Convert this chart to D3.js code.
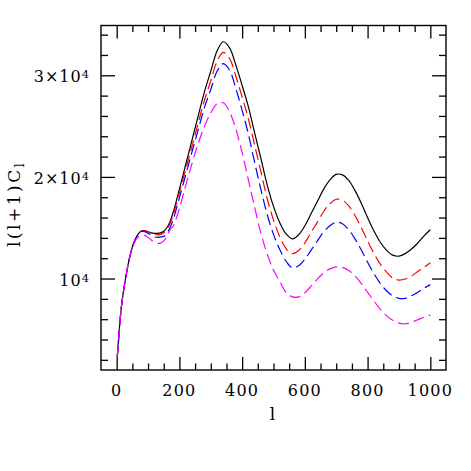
<!DOCTYPE html>
<html>
<head>
<meta charset="utf-8">
<script src="https://cdn.jsdelivr.net/npm/d3@7"></script>
<style>
    body { margin: 0; background: #fff; }
    svg text { font-family: "DejaVu Serif", serif; fill: #000; }
</style>
</head>
<body>
<div id="spectrum-area"></div>
<script>

// multipoles shared by every curve
const ell = [2, 5, 10, 15, 20,
    30, 40, 50, 60, 70, 80, 90, 100, 110, 120, 130, 140, 150, 160, 170, 180,
    200, 220, 240, 260, 280, 300, 320, 340, 360, 380, 400, 420, 440, 460, 480, 500,
    520, 540, 560, 580, 600, 620, 640, 660, 680, 700, 720, 740, 760, 780, 800,
    820, 840, 860, 880, 900, 920, 940, 960, 980, 1000];

// l(l+1)C_l
const clBlack = [2300, 3600, 5600, 7200, 8400,
    10300, 11900, 13100, 13900, 14450, 14700, 14700, 14600, 14500, 14450, 14450, 14500, 14650, 15000, 15600, 16500,
    18800, 21200, 23600, 26000, 28400, 30400, 32400, 33300, 32700, 31000, 29000, 26900, 24300, 21800, 19200, 17100,
    15500, 14400, 13900, 14300, 15200, 16400, 17600, 18800, 19700, 20250, 20200, 19650, 18650, 17400, 16000,
    14700, 13600, 12800, 12300, 12200, 12450, 12900, 13500, 14200, 14800];

const clRed = [2300, 3600, 5600, 7200, 8400,
    10300, 11900, 13100, 13900, 14450, 14700, 14700, 14600, 14450, 14350, 14300, 14350, 14500, 14850, 15400, 16250,
    18450, 20750, 23000, 25300, 27550, 29450, 31350, 32250, 31650, 29900, 27850, 25700, 23100, 20500, 17850, 15750,
    14100, 12950, 12450, 12750, 13500, 14550, 15550, 16600, 17350, 17800, 17700, 17150, 16200, 15000, 13700,
    12500, 11450, 10650, 10050, 9850, 9950, 10250, 10700, 11100, 11550];

const clBlue = [2300, 3600, 5600, 7200, 8400,
    10300, 11900, 13100, 13900, 14400, 14650, 14600, 14450, 14250, 14100, 14050, 14100, 14150, 14450, 15000, 15800,
    17950, 20200, 22450, 24650, 26850, 28600, 30400, 31150, 30500, 28700, 26550, 24200, 21400, 18750, 16300, 14350,
    12850, 11700, 11050, 11250, 11900, 12800, 13700, 14600, 15200, 15550, 15400, 14800, 13900, 12800, 11600,
    10500, 9550, 8800, 8300, 8050, 8050, 8300, 8650, 9050, 9400];

const clMagenta = [2400, 3600, 5600, 7200, 8400,
    10300, 11900, 13000, 13750, 14150, 14300, 14250, 14050, 13800, 13600, 13470, 13480, 13700, 14150, 14780, 15150,
    16900, 19150, 21300, 23300, 25000, 26300, 27200, 27300, 26400, 24700, 22400, 19700, 17000, 14450, 12400, 10850,
    9700, 8650, 8200, 8200, 8600, 9250, 9950, 10550, 10950, 11150, 11100, 10800, 10250, 9500, 8650,
    7800, 7000, 6350, 5900, 5620, 5550, 5700, 5950, 6200, 6400];

const seriesColors = ["#000000", "#ff0000", "#0000ff", "#ff00ff"];
const seriesDashes = [null, "11,5", "11,5", "11,5"];

// axis ticks
const xMajorTicks = [0, 200, 400, 600, 800, 1000];
const xMinorTicks = [50, 100, 150, 250, 300, 350, 450, 500, 550, 650, 700, 750, 850, 900, 950];
const yMajorTicks = [10000, 20000, 30000];
const yMinorTicks = [2000, 4000, 6000, 8000, 12000, 14000, 16000, 18000, 22000, 24000, 26000, 28000, 32000, 34000];
const yTickMantissa = ["", "2\u00d7", "3\u00d7"];


SpectrumPlot = function (_parentElement, _data) {
    this.parentElement = _parentElement;
    this.data = _data;
    this.initVis();
}

SpectrumPlot.prototype.initVis = function () {
    const vis = this;

    vis.margin = {top: 25.5, right: 25, bottom: 101, left: 101};
    vis.width = 471 - vis.margin.left - vis.margin.right;
    vis.height = 471 - vis.margin.top - vis.margin.bottom;

    vis.svg = d3.select("#" + vis.parentElement).append("svg")
        .attr("width", 471)
        .attr("height", 471)
        .append("g")
        .attr("transform", "translate(" + vis.margin.left + "," + vis.margin.top + ")");

    vis.x = d3.scaleLinear().domain([-50, 1050]).range([0, vis.width]);
    vis.y = d3.scaleLinear().domain([1000, 34900]).range([vis.height, 0]);

    // ticks on all four sides, pointing inwards
    vis.drawTicks(d3.axisBottom(vis.x), "translate(0," + vis.height + ")", xMajorTicks, xMinorTicks, 13);
    vis.drawTicks(d3.axisTop(vis.x), "translate(0,0)", xMajorTicks, xMinorTicks, 13);
    vis.drawTicks(d3.axisLeft(vis.y), "translate(0,0)", yMajorTicks, yMinorTicks, 14);
    vis.drawTicks(d3.axisRight(vis.y), "translate(" + vis.width + ",0)", yMajorTicks, yMinorTicks, 14);

    vis.svg.append("rect")
        .attr("class", "frame")
        .attr("width", vis.width)
        .attr("height", vis.height)
        .attr("fill", "none")
        .attr("stroke", "#000")
        .attr("stroke-width", 1.4);

    // tick labels
    vis.svg.selectAll(".x-label").data(xMajorTicks)
        .enter().append("text")
        .attr("class", "x-label")
        .attr("x", d => vis.x(d))
        .attr("y", vis.height + 26)
        .attr("text-anchor", "middle")
        .style("font-size", "16px")
        .style("letter-spacing", "1.2px")
        .text(d => d);

    const ylab = vis.svg.selectAll(".y-label").data(yMajorTicks)
        .enter().append("text")
        .attr("class", "y-label")
        .attr("x", -11)
        .attr("y", d => vis.y(d) + 7)
        .attr("text-anchor", "end")
        .style("font-size", "16px")
        .style("letter-spacing", "1px");
    ylab.append("tspan").text((d, i) => yTickMantissa[i] + "10");
    ylab.append("tspan")
        .attr("dy", -4)
        .style("font-size", "11.5px")
        .text("4");

    // axis titles
    vis.svg.append("text")
        .attr("x", vis.x(500) - 1)
        .attr("y", vis.height + 50)
        .attr("text-anchor", "middle")
        .style("font-size", "17px")
        .text("l");

    const ytitle = vis.svg.append("text")
        .attr("transform", "translate(" + (20 - vis.margin.left) + "," + (204 - vis.margin.top) + ") rotate(-90)")
        .attr("text-anchor", "middle")
        .style("font-size", "17px")
        .style("letter-spacing", "2.5px");
    ytitle.append("tspan").text("l(l+1)C");
    ytitle.append("tspan")
        .attr("dy", 4)
        .style("font-size", "12px")
        .text("l");

    vis.line = d3.line()
        .x(d => vis.x(d.l))
        .y(d => vis.y(d.v))
        .curve(d3.curveCatmullRom);

    vis.updateVis();
}

SpectrumPlot.prototype.drawTicks = function (axis, transform, major, minor, len) {
    const vis = this;
    const g = vis.svg.append("g").attr("transform", transform);
    g.append("g").call(axis.tickValues(major).tickSize(-len).tickSizeOuter(0).tickFormat(""));
    g.append("g").call(axis.tickValues(minor).tickSize(-len / 2).tickSizeOuter(0).tickFormat(""));
    g.selectAll(".domain").remove();
    g.selectAll(".tick line").attr("stroke", "#000").attr("stroke-width", 1.3);
}

SpectrumPlot.prototype.updateVis = function () {
    const vis = this;

    vis.svg.selectAll(".spectrum").data(vis.data)
        .enter().append("path")
        .attr("class", "spectrum")
        .attr("d", d => vis.line(d.values))
        .attr("fill", "none")
        .attr("stroke", d => d.color)
        .attr("stroke-width", 1.2)
        .attr("stroke-dasharray", d => d.dash);
}


const spectra = [clBlack, clRed, clBlue, clMagenta].map((cl, i) => ({
    color: seriesColors[i],
    dash: seriesDashes[i],
    values: ell.map((l, j) => ({l: l, v: cl[j]}))
}));

const plot = new SpectrumPlot("spectrum-area", spectra);

</script>
</body>
</html>
